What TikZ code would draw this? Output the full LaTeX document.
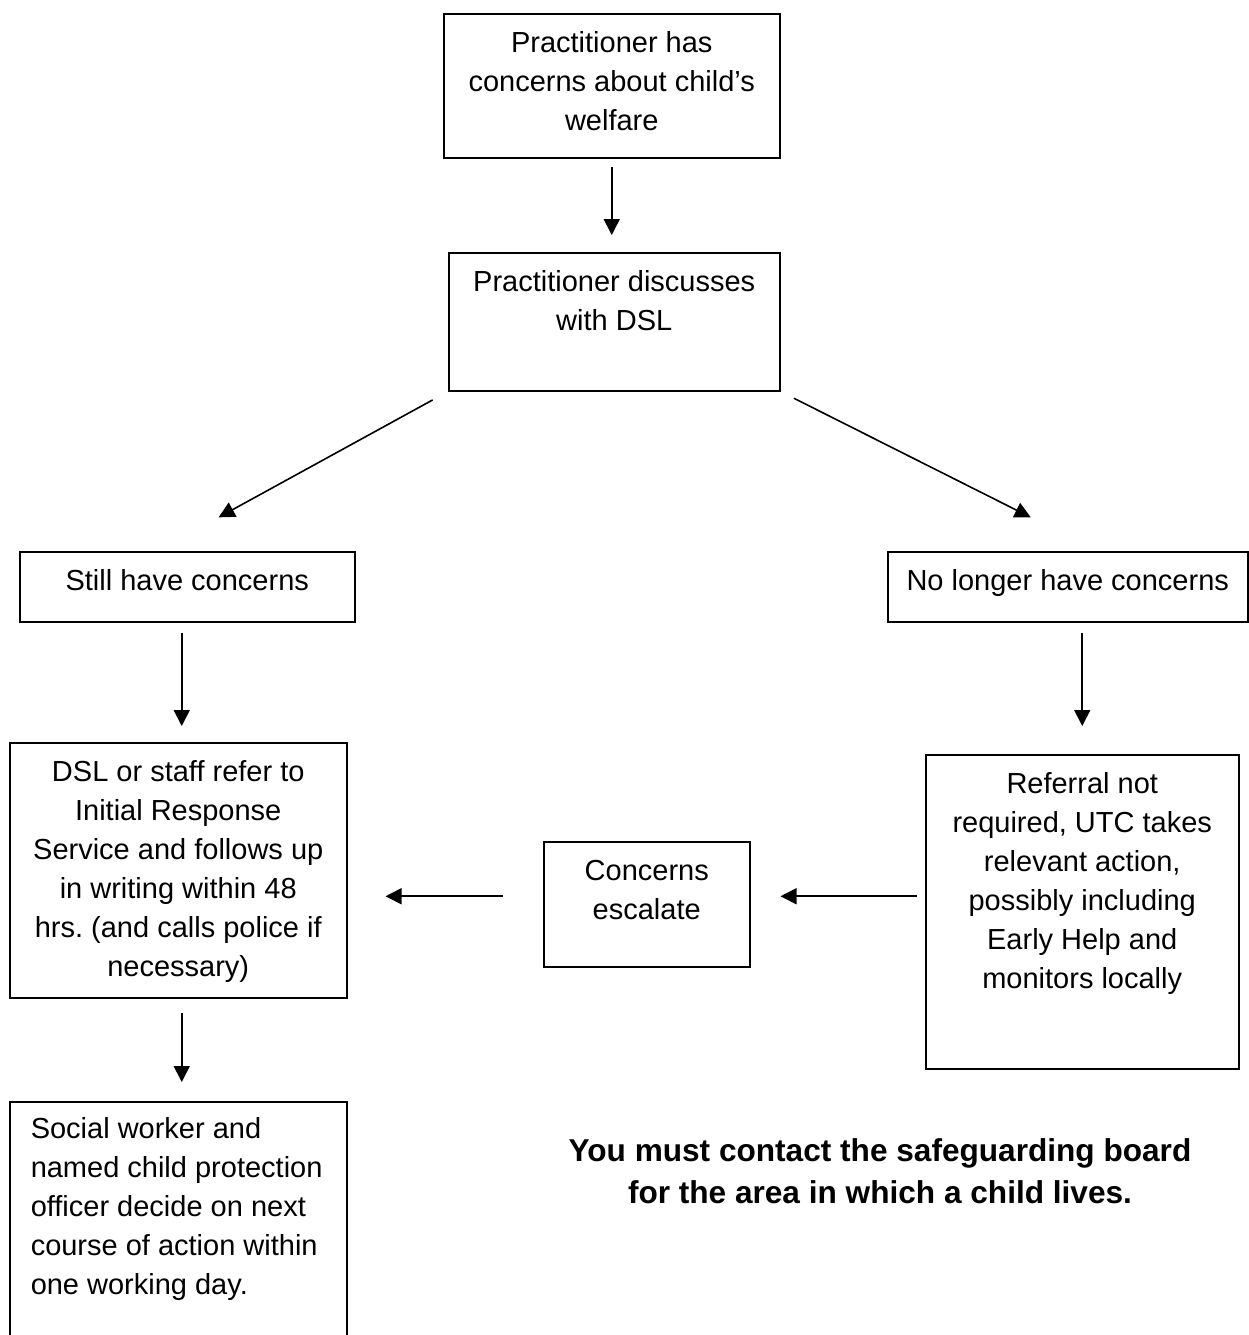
\documentclass[tikz,border=0pt]{standalone}
\usepackage{fontspec}
\setmainfont{Liberation Sans}
\usetikzlibrary{arrows.meta}
\frenchspacing
\newcommand{\cell}[3]{\parbox[t][#2][t]{#1}{\centering\rule{0pt}{19.5pt}#3}}
\newcommand{\lcell}[3]{\parbox[t][#2][t]{#1}{\raggedright\leftskip=10.5pt\rule{0pt}{18.5pt}#3}}

\begin{document}
\begin{tikzpicture}[
    x=0.5pt, y=-0.5pt,
    box/.style={draw, line width=0.75pt, inner sep=0pt, anchor=north west, font=\fontsize{14.5pt}{19.5pt}\selectfont},
    note/.style={align=center, font=\fontsize{15.8pt}{21pt}\selectfont\bfseries},
    arr/.style={-{Triangle[length=8pt, width=8pt]}, line width=0.8pt}
]
\clip (0,0) rectangle (1249,1335);

\node[box] (concern) at (443,13) {\cell{168pt}{72pt}{Practitioner has\\concerns about child’s\\welfare}};
\node[box] (discuss) at (448,252) {\cell{165.5pt}{69pt}{Practitioner discusses\\with DSL}};
\node[box] (still) at (19,551) {\cell{167.5pt}{35pt}{Still have concerns}};
\node[box] (nolonger) at (887,551) {\cell{180pt}{35pt}{No longer have concerns}};
\node[box] (refer) at (9,742) {\cell{168.5pt}{127.5pt}{DSL or staff refer to\\Initial Response\\Service and follows up\\in writing within 48\\hrs. (and calls police if\\necessary)}};
\node[box] (escalate) at (543,841) {\cell{103pt}{62.5pt}{Concerns\\escalate}};
\node[box] (local) at (925,754) {\cell{156.5pt}{157pt}{Referral not\\required, UTC takes\\relevant action,\\possibly including\\Early Help and\\monitors locally}};
\node[box] (social) at (9,1101) {\lcell{168.5pt}{130pt}{Social worker and\\named child protection\\officer decide on next\\course of action within\\one working day.}};
\node[note] (must) at (880,1171) {You must contact the safeguarding board\\for the area in which a child lives.};

\draw[arr, shorten <=4pt, shorten >=8.5pt] (concern.south) -- (concern.south |- discuss.north);
\draw[arr, shorten <=8.75pt, shorten >=35pt] (discuss.south west) -- ([xshift=-15pt]still.north);
\draw[arr, shorten <=7.5pt, shorten >=37.5pt] (discuss.south east) -- ([xshift=15pt]nolonger.north);
\draw[arr, shorten <=5pt, shorten >=8pt] ([xshift=1.75pt]refer.north |- still.south) -- ([xshift=1.75pt]refer.north);
\draw[arr, shorten <=5pt, shorten >=14pt] (local.north |- nolonger.south) -- (local.north);
\draw[arr, shorten <=4pt, shorten >=15pt] ([yshift=4pt]escalate.east -| local.west) -- ([yshift=4pt]escalate.east);
\draw[arr, shorten <=20pt, shorten >=19pt] ([yshift=4pt]escalate.west) -- ([yshift=4pt]escalate.west -| refer.east);
\draw[arr, shorten <=7pt, shorten >=9.5pt] ([xshift=1.75pt]refer.south) -- ([xshift=1.75pt]social.north);
\end{tikzpicture}
\end{document}
